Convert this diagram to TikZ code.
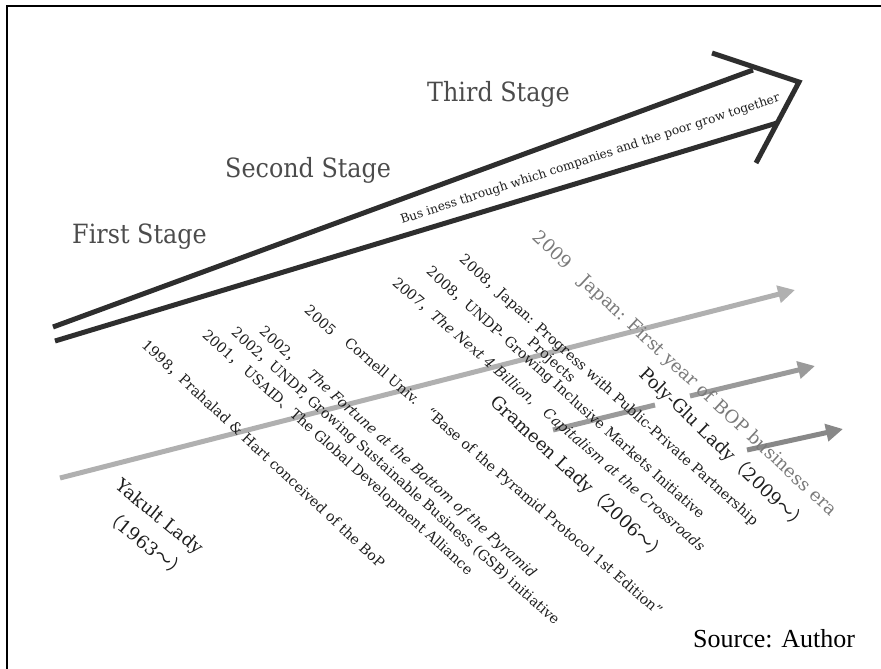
\documentclass[tikz,border=0pt]{standalone}
\usepackage{fontspec}
\setmainfont{DejaVu Serif}
\newfontfamily\cjkfw{Noto Sans CJK JP}
\newfontfamily\stagefont[FakeStretch=0.9]{DejaVu Serif}
\newfontfamily\srcfont{Liberation Serif}
\usetikzlibrary{arrows.meta}
\newcommand{\fwcomma}{{\cjkfw ，}}
\newcommand{\fwideo}{{\cjkfw 、}}
\newcommand{\fwlparen}{{\cjkfw （}}
\newcommand{\fwrparen}{{\cjkfw ）}}
\newcommand{\fwtilde}{{\cjkfw ～}}
\definecolor{maindark}{HTML}{2E2E2E}
\definecolor{grey1}{HTML}{B0B0B0}
\definecolor{grey2}{HTML}{9A9A9A}
\definecolor{grey3}{HTML}{888888}
\definecolor{stagegrey}{HTML}{4C4C4C}
\definecolor{yeargrey}{HTML}{7A7A7A}
\definecolor{txt}{HTML}{1E1E1E}
\begin{document}
\begin{tikzpicture}[x=1pt,y=-1pt,
  stage/.style={anchor=base west, inner sep=0pt, text=stagegrey, font=\stagefont\fontsize{26.5}{28}\selectfont},
  busi/.style={anchor=base west, inner sep=0pt, text=txt, font=\fontsize{12.2}{13}\selectfont},
  tl/.style={anchor=west, inner sep=0pt, text=txt, font=\fontsize{14.2}{16}\selectfont},
  lady/.style={anchor=west, inner sep=0pt, text=txt, font=\fontsize{18}{20}\selectfont},
  yeartext/.style={anchor=west, inner sep=0pt, text=yeargrey, font=\fontsize{18}{20}\selectfont},
  mainline/.style={line width=5pt, draw=maindark},
  greyline/.style={line width=5pt},
  headtip/.style={-{Triangle[length=17pt,width=17pt]}}
]
\useasboundingbox (0,0) rectangle (881,669);
% frame (top and left edges)
\draw[line width=2pt] (7,669) -- (7,6) -- (881,6);

% main widening arrow
\coordinate (mu0) at (53,327);
\coordinate (mu1) at (753,70);
\coordinate (ml0) at (55,341);
\coordinate (ml1) at (777,123);
\coordinate (hb1) at (712,53);
\coordinate (tip) at (799,82);
\coordinate (hb2) at (756,163);
\draw[mainline] (mu0) -- (mu1);
\draw[mainline] (ml0) -- (ml1);
\draw[mainline, line join=miter] (hb1) -- (tip) -- (hb2);

% grey arrows
\coordinate (g1a) at (60,478);
\coordinate (g1b) at (795,290);
\draw[greyline, draw=grey1, headtip] (g1a) -- (g1b);
\coordinate (g2a) at (553,430);
\coordinate (g2b) at (655,405);
\coordinate (g2c) at (690,396);
\coordinate (g2d) at (815,366);
\draw[greyline, draw=grey2] (g2a) -- (g2b);
\draw[greyline, draw=grey2, headtip] (g2c) -- (g2d);
\coordinate (g3a) at (747,450);
\coordinate (g3b) at (843,429);
\draw[greyline, draw=grey3, headtip] (g3a) -- (g3b);

% stage labels
\node[stage] (s1) at (72,243) {First Stage};
\node[stage] (s2) at (225,177) {Second Stage};
\node[stage] (s3) at (427,102) {Third Stage};

\node[busi, rotate=18] (bus) at (402,224) {Bus iness through which companies and the poor grow together};

% timeline texts
\node[lady, rotate=-39] (yak) at (117,484) {Yakult Lady};
\node[lady, rotate=-39] (yakd) at (107,512) {\fwlparen 1963\fwtilde\fwrparen};
\node[tl, rotate=-43] (t98) at (144,343) {1998\fwcomma Prahalad \& Hart conceived of the BoP};
\node[tl, rotate=-42] (t01) at (204,333) {2001\fwcomma\ USAID\fwideo The Global Development Alliance};
\node[tl, rotate=-42] (t02a) at (233,331) {2002\fwcomma UNDP, Growing Sustainable Business (GSB) initiative};
\node[tl, rotate=-42] (t02b) at (261,330) {2002\fwcomma\quad\textit{The Fortune at the Bottom of the Pyramid}};
\node[tl, rotate=-42] (t05) at (307,308) {2005};
\node[tl, rotate=-41] (tcor) at (346,341) {Cornell Univ.\quad “Base of the Pyramid Protocol 1st Edition”};
\node[tl, rotate=-41] (t07) at (394,281) {2007\fwcomma\textit{The Next 4 Billion},\quad\textit{Capitalism at the Crossroads}};
\node[tl, rotate=-42] (t08a) at (428,270) {2008\fwcomma UNDP- Growing Inclusive Markets Initiative};
\node[tl, rotate=-42] (t08b) at (461,258) {2008\fwcomma Japan: Progress with Public-Private Partnership};
\node[tl, rotate=-42] (tproj) at (529,341) {Projects};
\node[yeartext, rotate=-43] (t09) at (535,235) {2009\quad Japan: First year of BOP business era};
\node[lady, rotate=-43] (gram) at (493,399) {Grameen Lady\fwlparen 2006\fwtilde\fwrparen};
\node[lady, rotate=-44] (poly) at (642,371) {Poly-Glu Lady\fwlparen 2009\fwtilde\fwrparen};

\node[anchor=base west, inner sep=0pt, font=\srcfont\fontsize{26}{28}\selectfont] (src) at (693,647) {Source: Author};
\end{tikzpicture}
\end{document}
